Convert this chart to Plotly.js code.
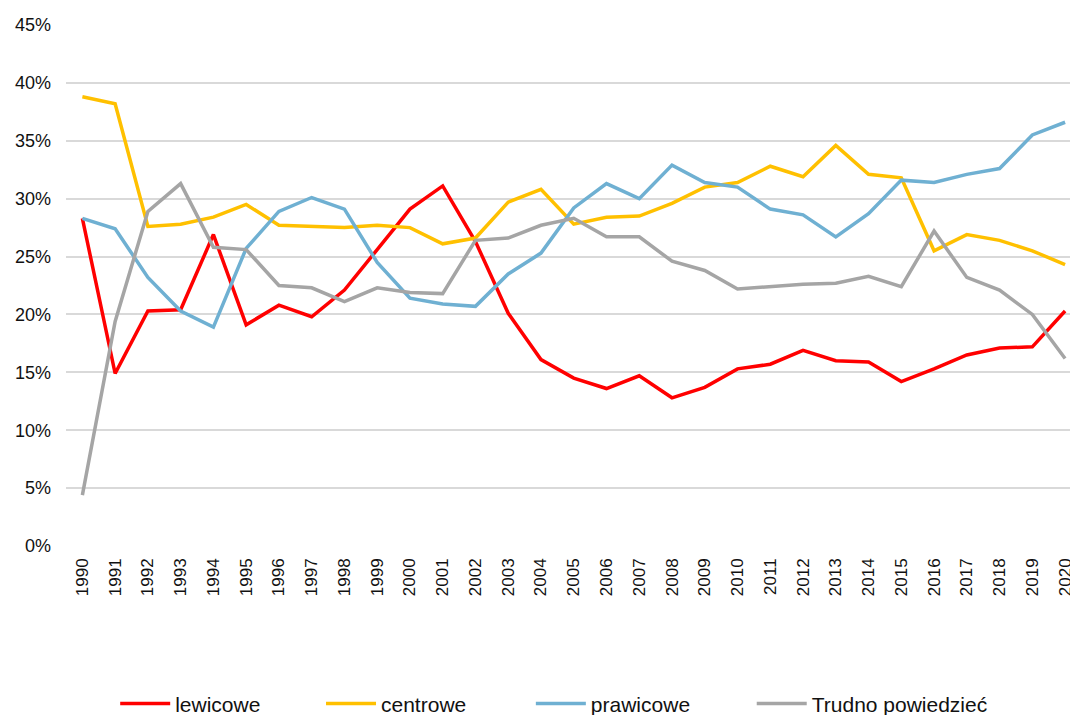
<!DOCTYPE html>
<html>
<head>
<meta charset="utf-8">
<script src="https://cdn.plot.ly/plotly-3.0.1.min.js"></script>
<style>
html,body{margin:0;padding:0;background:#fff;}
#chart{width:1070px;height:715px;}
</style>
</head>
<body>
<div id="chart"></div>
<script>
var years = ["1990","1991","1992","1993","1994","1995","1996","1997","1998","1999","2000","2001","2002","2003","2004","2005","2006","2007","2008","2009","2010","2011","2012","2013","2014","2015","2016","2017","2018","2019","2020"];

var lewicowe = [28.3,14.9,20.3,20.4,26.9,19.1,20.8,19.8,22.1,25.6,29.1,31.1,26.3,20.1,16.1,14.5,13.6,14.7,12.8,13.7,15.3,15.7,16.9,16.0,15.9,14.2,15.3,16.5,17.1,17.2,20.3];
var centrowe = [38.8,38.2,27.6,27.8,28.4,29.5,27.7,27.6,27.5,27.7,27.5,26.1,26.6,29.7,30.8,27.8,28.4,28.5,29.6,31.0,31.4,32.8,31.9,34.6,32.1,31.8,25.5,26.9,26.4,25.5,24.3];
var prawicowe = [28.3,27.4,23.2,20.3,18.9,25.7,28.9,30.1,29.1,24.5,21.4,20.9,20.7,23.5,25.3,29.2,31.3,30.0,32.9,31.4,31.0,29.1,28.6,26.7,28.7,31.6,31.4,32.1,32.6,35.5,36.6];
var trudno = [4.4,19.4,28.9,31.3,25.8,25.6,22.5,22.3,21.1,22.3,21.9,21.8,26.4,26.6,27.7,28.3,26.7,26.7,24.6,23.8,22.2,22.4,22.6,22.7,23.3,22.4,27.2,23.2,22.1,20.0,16.2];

var seriesNames = ["lewicowe","centrowe","prawicowe","Trudno powiedzieć"];
var seriesData = [lewicowe, centrowe, prawicowe, trudno];
var seriesColors = ["#FF0000","#FFC000","#6FB0D2","#A5A5A5"];

var yTickVals = [0,5,10,15,20,25,30,35,40,45];
var yTickText = ["0%","5%","10%","15%","20%","25%","30%","35%","40%","45%"];

var legendIds = ["legend","legend2","legend3","legend4"];
var legendX = [0.049, 0.254, 0.463, 0.683];

var traces = seriesData.map(function(d, i){
  return {
    x: years, y: d, name: seriesNames[i], type: "scatter", mode: "lines",
    line: {color: seriesColors[i], width: 3.5},
    legend: legendIds[i],
    hoverinfo: "x+y+name"
  };
});

var legendBase = function(x){
  return {
    orientation: "h", x: x, xanchor: "left", y: -0.303, yanchor: "middle",
    font: {family: "Liberation Sans, Arial, sans-serif", size: 21, color: "#111"},
    bgcolor: "rgba(0,0,0,0)", borderwidth: 0, itemwidth: 50, tracegroupgap: 0
  };
};

var layout = {
  width: 1070, height: 715,
  margin: {l: 66, r: 0, t: 25, b: 169, autoexpand: false},
  paper_bgcolor: "#fff", plot_bgcolor: "#fff",
  showlegend: true,
  xaxis: {
    type: "category", range: [-0.5, 30.15],
    showgrid: false, zeroline: false, showline: false, ticks: "",
    tickangle: -90, ticklabelstandoff: 8,
    tickfont: {family: "Liberation Sans, Arial, sans-serif", size: 17, color: "#111"}
  },
  yaxis: {
    range: [0, 45], tickvals: yTickVals, ticktext: yTickText,
    showgrid: true, gridcolor: "#D9D9D9", gridwidth: 2,
    zeroline: false, showline: false, ticks: "",
    ticklabelstandoff: 14,
    tickfont: {family: "Liberation Sans, Arial, sans-serif", size: 18, color: "#111"}
  }
};
legendIds.forEach(function(id, i){ layout[id] = legendBase(legendX[i]); });

Plotly.newPlot("chart", traces, layout, {displayModeBar: false, staticPlot: true});
</script>
</body>
</html>
